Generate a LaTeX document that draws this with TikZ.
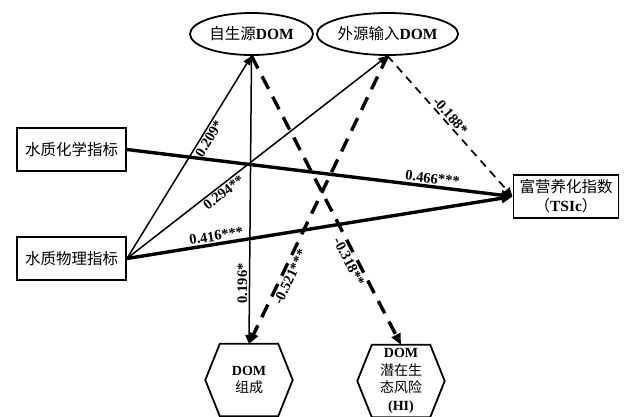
\documentclass[tikz,border=0pt]{standalone}
\usepackage{fontspec}
\setmainfont{Liberation Serif}
\newfontfamily\cjk{Noto Sans CJK SC}
\usetikzlibrary{arrows.meta,calc,shapes.geometric}
\begin{document}
\begin{tikzpicture}[x=1pt,y=-1pt,
  box/.style={draw,line width=1.9pt,minimum width=109pt,minimum height=43pt,inner sep=0pt,align=center,font=\fontsize{15.5}{19}\selectfont},
  ell/.style={draw,ellipse,line width=1.8pt,inner sep=0pt,minimum height=42pt,font=\fontsize{15.5}{18}\selectfont},
  hext/.style={inner sep=0pt,minimum width=58pt,minimum height=72pt,align=center,font=\fontsize{14}{17.5}\selectfont},
  hexline/.style={line width=1.8pt,line join=miter},
  thin/.style={line width=1.5pt,-{Triangle[length=9pt,width=7.5pt]}},
  thick/.style={line width=3.4pt,-{Triangle[length=11pt,width=9.5pt]}},
  thindash/.style={line width=1.7pt,dash pattern=on 8pt off 6pt,-{Triangle[length=9pt,width=7.5pt]}},
  thickdash/.style={line width=3.4pt,dash pattern=on 14pt off 9pt,-{Triangle[length=11pt,width=9.5pt]}},
  lab/.style={font=\fontsize{14.5}{16}\selectfont\bfseries,inner sep=1.5pt}]
\useasboundingbox (0,0) rectangle (627,416);

\node[ell,minimum width=123pt] (zi) at (251.5,34) {{\cjk 自生源}\textbf{DOM}};
\node[ell,minimum width=121pt] (wai) at (387.5,34) {{\cjk 外源输入}\textbf{DOM}};
\node[box] (chem) at (71.5,149.5) {\cjk 水质化学指标};
\node[box] (phys) at (71.5,258.5) {\cjk 水质物理指标};
\node[box,minimum width=105pt] (tsi) at (566,196.5) {{\cjk 富营养化指数}\\{\cjk （}\textbf{TSIc}{\cjk ）}};

\node[hext] (domc) at (249,380) {\textbf{DOM}\\{\cjk 组成}};
\draw[hexline] (domc.north west) -- (domc.north east) -- ($(domc.east)+(14.5,0)$) -- (domc.south east) -- (domc.south west) -- ($(domc.west)+(-14.5,0)$) -- cycle;
\node[hext] (hi) at (401,381) {\textbf{DOM}\\{\cjk 潜在生}\\{\cjk 态风险}\\\textbf{(HI)}};
\draw[hexline] (hi.north west) -- (hi.north east) -- ($(hi.east)+(14.5,0)$) -- (hi.south east) -- (hi.south west) -- ($(hi.west)+(-14.5,0)$) -- cycle;

\draw[thick] (chem.east) -- node[lab,pos=0.79,sloped,above] {0.466***} (tsi.west);
\draw[thick] (phys.east) -- node[lab,pos=0.235,sloped,above] {0.416***} (tsi.west);
\draw[thin] (phys.east) -- node[lab,pos=0.61,sloped,below] {0.209*} (zi.south);
\draw[thin] (phys.east) -- node[lab,pos=0.354,sloped,below] {0.294**} (wai.south);
\draw[thin] (zi.south) -- node[lab,pos=0.79,rotate=90,anchor=south] {0.196*} (domc.north);
\draw[thickdash] (zi.south) -- node[lab,pos=0.70,sloped,below] {-0.318**} (hi.north);
\draw[thickdash] (wai.south) -- node[lab,pos=0.756,sloped,below] {-0.521***} (domc.north);
\draw[thindash] (wai.south) -- node[lab,pos=0.46,sloped,above] {-0.188*} (tsi.west);
\end{tikzpicture}
\end{document}
